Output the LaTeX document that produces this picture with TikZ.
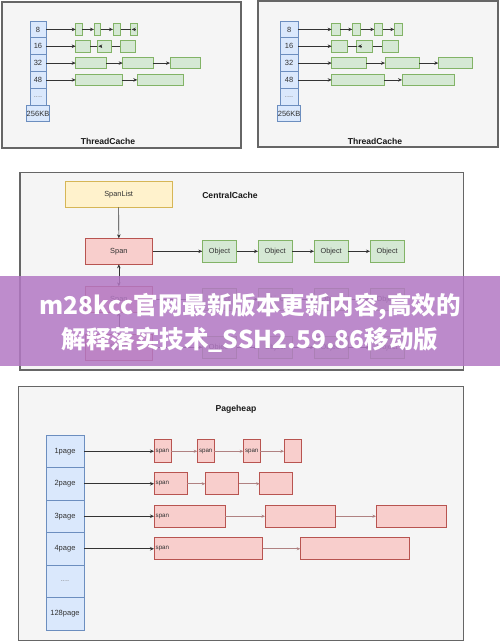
\documentclass[tikz,border=0pt]{standalone}
\usepackage{fontspec}
\setmainfont{Liberation Sans}
\newfontfamily\cjk{Noto Sans CJK SC}
\usetikzlibrary{arrows.meta}
\definecolor{panelfill}{HTML}{F5F5F5}
\definecolor{paneldraw}{HTML}{666666}
\definecolor{bluefill}{HTML}{DAE8FC}
\definecolor{bluedraw}{HTML}{6C8EBF}
\definecolor{greenfill}{HTML}{D5E8D4}
\definecolor{greendraw}{HTML}{82B366}
\definecolor{yelfill}{HTML}{FFF2CC}
\definecolor{yeldraw}{HTML}{D6B656}
\definecolor{redfill}{HTML}{F8CECC}
\definecolor{reddraw}{HTML}{B85450}
\definecolor{spanarrow}{RGB}{176,130,130}
\definecolor{bandcol}{RGB}{179,120,196}
\newcommand\mybox[7]{\node[#1, minimum width={(#4-#3)*1pt}, minimum height={#6*1pt}] (#2) at ({(#3+#4)/2},#5) {#7};}
\tikzset{
  panel/.style={fill=panelfill, draw=paneldraw, line width=1.5pt},
  boxbase/.style={rectangle, inner sep=0pt, outer sep=0pt, line width=1pt},
  bcell/.style={boxbase, fill=bluefill, draw=bluedraw, font=\fontsize{7.5}{8.5}\selectfont, text=black!80},
  gbox/.style={boxbase, fill=greenfill, draw=greendraw, font=\fontsize{7.3}{8.3}\selectfont, text=black!80},
  ybox/.style={boxbase, fill=yelfill, draw=yeldraw, font=\fontsize{7.4}{8.4}\selectfont, text=black!80},
  rbox/.style={boxbase, fill=redfill, draw=reddraw, font=\fontsize{7.4}{8.4}\selectfont, text=black!80},
  arr/.style={draw=black!80, line width=0.6pt, -{Stealth[length=4pt,width=3.5pt]}},
  larr/.style={draw=black!80, line width=0.6pt},
  dblarr/.style={draw=black!80, line width=0.6pt, {Stealth[length=4pt,width=3.5pt]}-{Stealth[length=4pt,width=3.5pt]}},
  sarr/.style={draw=spanarrow, line width=0.6pt, -{Stealth[length=3.5pt,width=3pt]}},
  title/.style={font=\bfseries\fontsize{8.6}{9.6}\selectfont, text=black!90},
  spanlbl/.style={anchor=west, inner sep=0pt, font=\fontsize{6.2}{7}\selectfont, text=black!80},
}
\begin{document}
\begin{tikzpicture}[x=1pt,y=-1pt]
\useasboundingbox (0,0) rectangle (500,642);
\fill[white] (0,0) rectangle (500,642);

% ---------- left ThreadCache ----------
\draw[panel] (2,2) rectangle (241,148);
\node[title] (tcl) at (108,141) {ThreadCache};
\mybox{bcell}{La}{30}{46}{29.42}{16.83}{8}
\mybox{bcell}{Lb}{30}{46}{46.25}{16.83}{16}
\mybox{bcell}{Lc}{30}{46}{63.08}{16.83}{32}
\mybox{bcell}{Ld}{30}{46}{79.92}{16.83}{48}
\mybox{bcell}{Le}{30}{46}{96.75}{16.83}{\textcolor{black!50}{....}}
\mybox{bcell}{Lf}{30}{46}{113.58}{16.83}{256KB}
% row 8
\mybox{gbox}{La1}{75.7}{82.3}{29.42}{11.7}{}
\mybox{gbox}{La2}{94}{100.7}{29.42}{11.7}{}
\mybox{gbox}{La3}{113}{120.7}{29.42}{11.7}{}
\mybox{gbox}{La4}{130.7}{137.7}{29.42}{11.7}{}
\draw[arr] (La.east) -- (La1.west);
\draw[arr] (La1.east) -- (La2.west);
\draw[arr] (La2.east) -- (La3.west);
\draw[larr] (La3.east) -- (La4.west);
\draw[draw=black!80, line width=0.6pt, {Stealth[length=4pt,width=3.5pt]}-] ([xshift=1pt]La4.west) -- ([xshift=5pt]La4.west);
% row 16
\mybox{gbox}{Lb1}{75.7}{90}{46.25}{11.7}{}
\mybox{gbox}{Lb2}{97.3}{111.7}{46.25}{11.7}{}
\mybox{gbox}{Lb3}{120}{135}{46.25}{11.7}{}
\draw[arr] (Lb.east) -- (Lb1.west);
\draw[larr] (Lb1.east) -- (Lb2.west);
\draw[draw=black!80, line width=0.6pt, {Stealth[length=4pt,width=3.5pt]}-] ([xshift=1pt]Lb2.west) -- ([xshift=5pt]Lb2.west);
\draw[larr] (Lb2.east) -- (Lb3.west);
% row 32
\mybox{gbox}{Lc1}{75.7}{106}{63.08}{11.7}{}
\mybox{gbox}{Lc2}{122.7}{153.3}{63.08}{11.7}{}
\mybox{gbox}{Lc3}{170}{200.3}{63.08}{11.7}{}
\draw[arr] (Lc.east) -- (Lc1.west);
\draw[arr] (Lc1.east) -- (Lc2.west);
\draw[arr] (Lc2.east) -- (Lc3.west);
% row 48
\mybox{gbox}{Ld1}{75.7}{122}{79.92}{11.7}{}
\mybox{gbox}{Ld2}{137.3}{183.7}{79.92}{11.7}{}
\draw[arr] (Ld.east) -- (Ld1.west);
\draw[arr] (Ld1.east) -- (Ld2.west);

% ---------- right ThreadCache ----------
\draw[panel] (258,1) rectangle (498,147);
\node[title] (tcr) at (375,141) {ThreadCache};
\mybox{bcell}{Ra}{280}{298.3}{29.42}{16.83}{8}
\mybox{bcell}{Rb}{280}{298.3}{46.25}{16.83}{16}
\mybox{bcell}{Rc}{280}{298.3}{63.08}{16.83}{32}
\mybox{bcell}{Rd}{280}{298.3}{79.92}{16.83}{48}
\mybox{bcell}{Re}{280}{298.3}{96.75}{16.83}{\textcolor{black!50}{....}}
\mybox{bcell}{Rf}{280}{298.3}{113.58}{16.83}{256KB}
% row 8
\mybox{gbox}{Ra1}{331.7}{340}{29.42}{11.7}{}
\mybox{gbox}{Ra2}{352.3}{360.7}{29.42}{11.7}{}
\mybox{gbox}{Ra3}{374.3}{382.7}{29.42}{11.7}{}
\mybox{gbox}{Ra4}{394.3}{402.7}{29.42}{11.7}{}
\draw[arr] (Ra.east) -- (Ra1.west);
\draw[arr] (Ra1.east) -- (Ra2.west);
\draw[arr] (Ra2.east) -- (Ra3.west);
\draw[arr] (Ra3.east) -- (Ra4.west);
% row 16
\mybox{gbox}{Rb1}{331.7}{347.7}{46.25}{11.7}{}
\mybox{gbox}{Rb2}{356.7}{372.7}{46.25}{11.7}{}
\mybox{gbox}{Rb3}{382.3}{398.7}{46.25}{11.7}{}
\draw[arr] (Rb.east) -- (Rb1.west);
\draw[larr] (Rb1.east) -- (Rb2.west);
\draw[draw=black!80, line width=0.6pt, {Stealth[length=4pt,width=3.5pt]}-] ([xshift=1pt]Rb2.west) -- ([xshift=5pt]Rb2.west);
\draw[larr] (Rb2.east) -- (Rb3.west);
% row 32
\mybox{gbox}{Rc1}{331.7}{366}{63.08}{11.7}{}
\mybox{gbox}{Rc2}{385}{419.3}{63.08}{11.7}{}
\mybox{gbox}{Rc3}{438.3}{472.7}{63.08}{11.7}{}
\draw[arr] (Rc.east) -- (Rc1.west);
\draw[arr] (Rc1.east) -- (Rc2.west);
\draw[arr] (Rc2.east) -- (Rc3.west);
% row 48
\mybox{gbox}{Rd1}{331.7}{384.3}{79.92}{11.7}{}
\mybox{gbox}{Rd2}{402}{454.3}{79.92}{11.7}{}
\draw[arr] (Rd.east) -- (Rd1.west);
\draw[arr] (Rd1.east) -- (Rd2.west);

% ---------- CentralCache ----------
\draw[panel] (20,172.3) rectangle (463.3,370);
\node[title] (cct) at (230,195) {CentralCache};
\mybox{ybox}{SL}{65}{172.3}{194.15}{26.3}{SpanList}
\foreach \r/\yc in {1/251.3, 2/299.3, 3/347.3} {
  \mybox{rbox}{S\r}{85}{152.7}{\yc}{26}{Span}
  \mybox{gbox}{O\r a}{202.3}{236.7}{\yc}{22.4}{Object}
  \mybox{gbox}{O\r b}{258}{292.3}{\yc}{22.4}{Object}
  \mybox{gbox}{O\r c}{314}{348.3}{\yc}{22.4}{Object}
  \mybox{gbox}{O\r d}{370}{404.3}{\yc}{22.4}{Object}
  \draw[arr] (S\r.east) -- (O\r a.west);
  \draw[arr] (O\r a.east) -- (O\r b.west);
  \draw[arr] (O\r b.east) -- (O\r c.west);
  \draw[arr] (O\r c.east) -- (O\r d.west);
}
\draw[arr] (SL.south) -- (S1.north);
\draw[dblarr] (S1.south) -- (S2.north);
\draw[dblarr] (S2.south) -- (S3.north);

% ---------- Pageheap ----------
\draw[panel] (18.3,386.7) rectangle (463.3,640.7);
\node[title] (pht) at (236,409) {Pageheap};
\mybox{bcell}{P1}{46}{84}{451.25}{32.5}{1page}
\mybox{bcell}{P2}{46}{84}{483.75}{32.5}{2page}
\mybox{bcell}{P3}{46}{84}{516.25}{32.5}{3page}
\mybox{bcell}{P4}{46}{84}{548.75}{32.5}{4page}
\mybox{bcell}{P5}{46}{84}{581.25}{32.5}{\textcolor{black!50}{....}}
\mybox{bcell}{P6}{46}{84}{613.75}{32.5}{128page}
% row 1
\mybox{rbox}{P1a}{154}{171}{451.25}{22.6}{}
\mybox{rbox}{P1b}{197.3}{214.3}{451.25}{22.6}{}
\mybox{rbox}{P1c}{243.3}{260.3}{451.25}{22.6}{}
\mybox{rbox}{P1d}{284}{301}{451.25}{22.6}{}
\node[spanlbl] (P1al) at ([xshift=1.5pt]P1a.west) {span};
\node[spanlbl] (P1bl) at ([xshift=1.5pt]P1b.west) {span};
\node[spanlbl] (P1cl) at ([xshift=1.5pt]P1c.west) {span};
\draw[arr] (P1.east) -- (P1a.west);
\draw[sarr] (P1a.east) -- (P1b.west);
\draw[sarr] (P1b.east) -- (P1c.west);
\draw[sarr] (P1c.east) -- (P1d.west);
% row 2
\mybox{rbox}{P2a}{154}{187}{483.75}{22.3}{}
\mybox{rbox}{P2b}{205.3}{238.7}{483.75}{22.3}{}
\mybox{rbox}{P2c}{259.7}{292.7}{483.75}{22.3}{}
\node[spanlbl] (P2al) at ([xshift=1.5pt]P2a.west) {span};
\draw[arr] (P2.east) -- (P2a.west);
\draw[sarr] (P2a.east) -- (P2b.west);
\draw[sarr] (P2b.east) -- (P2c.west);
% row 3
\mybox{rbox}{P3a}{154}{225}{516.25}{22}{}
\mybox{rbox}{P3b}{265}{335.7}{516.25}{22}{}
\mybox{rbox}{P3c}{376}{446.7}{516.25}{22}{}
\node[spanlbl] (P3al) at ([xshift=1.5pt]P3a.west) {span};
\draw[arr] (P3.east) -- (P3a.west);
\draw[sarr] (P3a.east) -- (P3b.west);
\draw[sarr] (P3b.east) -- (P3c.west);
% row 4
\mybox{rbox}{P4a}{154}{262.7}{548.75}{22}{}
\mybox{rbox}{P4b}{300.3}{409}{548.75}{22}{}
\node[spanlbl] (P4al) at ([xshift=1.5pt]P4a.west) {span};
\draw[arr] (P4.east) -- (P4a.west);
\draw[sarr] (P4a.east) -- (P4b.west);

% ---------- overlay band ----------
\fill[bandcol, opacity=0.85] (0,275.7) rectangle (500,365.5);
\node[text=white, font=\cjk\bfseries\fontsize{24.5}{26}\selectfont, inner sep=0pt] (b1) at (250,306.7) {m28kcc官网最新版本更新内容,高效的};
\node[text=white, font=\cjk\bfseries\fontsize{24.5}{26}\selectfont, inner sep=0pt] (b2) at (250,340) {解释落实技术\_SSH2.59.86移动版};
\end{tikzpicture}
\end{document}
